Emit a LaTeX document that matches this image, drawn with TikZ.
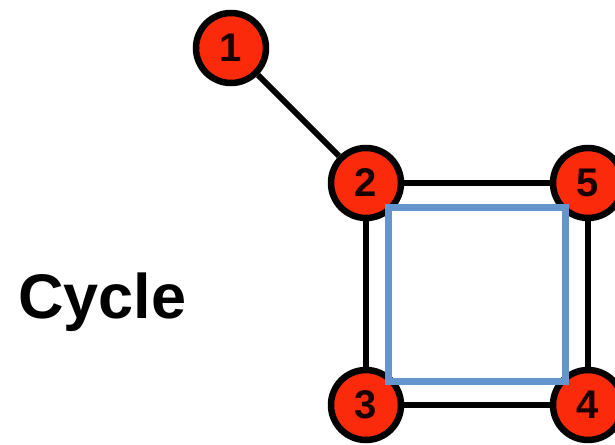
\documentclass[tikz,border=0pt]{standalone}
\usepackage{fontspec}
\setmainfont{Liberation Sans}
\definecolor{nodered}{RGB}{250,42,10}
\definecolor{cycleblue}{RGB}{100,150,205}
\begin{document}
\begin{tikzpicture}[x=1pt,y=-1pt,
  vtx/.style={circle,draw=black,line width=6.5pt,fill=nodered,minimum size=70pt,inner sep=0pt,
    font=\fontsize{40}{40}\selectfont\bfseries,text=black!90!red},
  edge/.style={draw=black,line width=6pt}]
\useasboundingbox (0,0) rectangle (615,444);
\node[vtx] (n1) at (231,48) {1};
\node[vtx] (n2) at (366,183) {2};
\node[vtx] (n5) at (588,183) {5};
\node[vtx] (n3) at (366,405) {3};
\node[vtx] (n4) at (588,405) {4};
\draw[edge] (n1) -- (n2);
\draw[edge] (n2) -- (n5);
\draw[edge] (n2) -- (n3);
\draw[edge] (n5) -- (n4);
\draw[edge] (n3) -- (n4);
\draw[cycleblue,line width=7pt] (388,207) rectangle (565,381);
\node[anchor=base west,inner sep=0pt,font=\fontsize{63}{63}\selectfont\bfseries] (lbl) at (18,318) {Cycle};
\end{tikzpicture}
\end{document}
